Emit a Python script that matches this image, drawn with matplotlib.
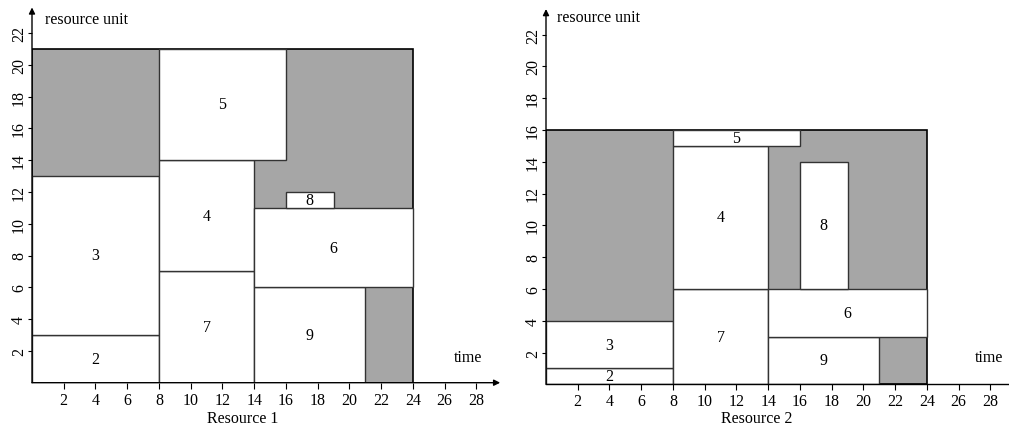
import matplotlib
matplotlib.use("Agg")
import matplotlib.pyplot as plt
from matplotlib.patches import Rectangle

plt.rcParams['font.family'] = ['Liberation Serif', 'DejaVu Serif']

# ---- data ----
# Resource 1 tasks: (label, start, end, low, high)
r1_labels = ['2', '3', '7', '4', '5', '9', '6', '8']
r1_start = [0, 0, 8, 8, 8, 14, 14, 16]
r1_end = [8, 8, 14, 14, 16, 21, 24, 19]
r1_low = [0, 3, 0, 7, 14, 0, 6, 11]
r1_high = [3, 13, 7, 14, 21, 6, 11, 12]
r1_capacity = 21

# Resource 2 tasks
r2_labels = ['2', '3', '7', '4', '5', '9', '6', '8']
r2_start = [0, 0, 8, 8, 8, 14, 14, 16]
r2_end = [8, 8, 14, 14, 16, 21, 24, 19]
r2_low = [0, 1, 0, 6, 15, 0, 3, 6]
r2_high = [1, 4, 6, 15, 16, 3, 6, 14]
r2_capacity = 16

horizon = 24
x_ticks = [2, 4, 6, 8, 10, 12, 14, 16, 18, 20, 22, 24, 26, 28]
y_ticks = [2, 4, 6, 8, 10, 12, 14, 16, 18, 20, 22]
titles = ['Resource 1', 'Resource 2']

W, H = 1009, 427
fig = plt.figure(figsize=(W / 100, H / 100), dpi=100)

ppu = 15.87
panels = [
    dict(x0=32, y0=427 - 383.7, xmax=29.5, ymax=23.6,
         labels=r1_labels, start=r1_start, end=r1_end, low=r1_low, high=r1_high,
         cap=r1_capacity, arrow=True, ru=(0.82, 22.9), tm=(27.5, 1.6), base=-2.47),
    dict(x0=546, y0=427 - 385.3, xmax=29.1, ymax=23.6,
         labels=r2_labels, start=r2_start, end=r2_end, low=r2_low, high=r2_high,
         cap=r2_capacity, arrow=False, ru=(0.67, 23.1), tm=(27.9, 1.7), base=-2.37),
]

gray = '#a6a6a6'
edge = '#333333'
fs = 11.5

for p, title in zip(panels, titles):
    w = p['xmax'] * ppu
    h = p['ymax'] * 15.9
    ax = fig.add_axes([p['x0'] / W, p['y0'] / H, w / W, h / H])
    ax.set_xlim(0, p['xmax'])
    ax.set_ylim(0, p['ymax'])
    for s in ax.spines.values():
        s.set_visible(False)
    # idle background
    ax.add_patch(Rectangle((0, 0), horizon, p['cap'], facecolor=gray,
                           edgecolor='black', linewidth=1.2, zorder=1))
    for lab, s, e, lo, hi in zip(p['labels'], p['start'], p['end'], p['low'], p['high']):
        ax.add_patch(Rectangle((s, lo), e - s, hi - lo, facecolor='white',
                               edgecolor=edge, linewidth=1.0, zorder=2))
        ax.text((s + e) / 2, (lo + hi) / 2, lab, ha='center', va='center',
                fontsize=fs, zorder=3)
    # axes lines with arrows
    ax.annotate('', xy=(0, p['ymax']), xytext=(0, 0),
                arrowprops=dict(arrowstyle='-|>', color='black', lw=1.0,
                                mutation_scale=9, shrinkA=0, shrinkB=0),
                annotation_clip=False, zorder=4)
    if p['arrow']:
        ax.annotate('', xy=(p['xmax'], 0), xytext=(0, 0),
                    arrowprops=dict(arrowstyle='-|>', color='black', lw=1.0,
                                    mutation_scale=9, shrinkA=0, shrinkB=0),
                    annotation_clip=False, zorder=4)
    else:
        ax.plot([0, p['xmax']], [0, 0], color='black', lw=1.0, clip_on=False, zorder=4)
    ax.set_xticks(x_ticks)
    ax.set_yticks(y_ticks)
    ax.set_xticklabels([str(t) for t in x_ticks], fontsize=fs)
    ax.set_yticklabels([str(t) for t in y_ticks], fontsize=fs, rotation=90, va='center')
    ax.tick_params(axis='x', direction='out', length=4, width=0.8, pad=2.5)
    ax.tick_params(axis='y', direction='out', length=3, width=0.8, pad=0.5)
    ax.text(13.3, p['base'], title, fontsize=fs, ha='center', va='baseline')
    ax.text(p['ru'][0], p['ru'][1], 'resource unit', fontsize=fs, ha='left', va='center')
    ax.text(p['tm'][0], p['tm'][1], 'time', fontsize=fs, ha='center', va='center')

fig.savefig('out.png', dpi=100)
